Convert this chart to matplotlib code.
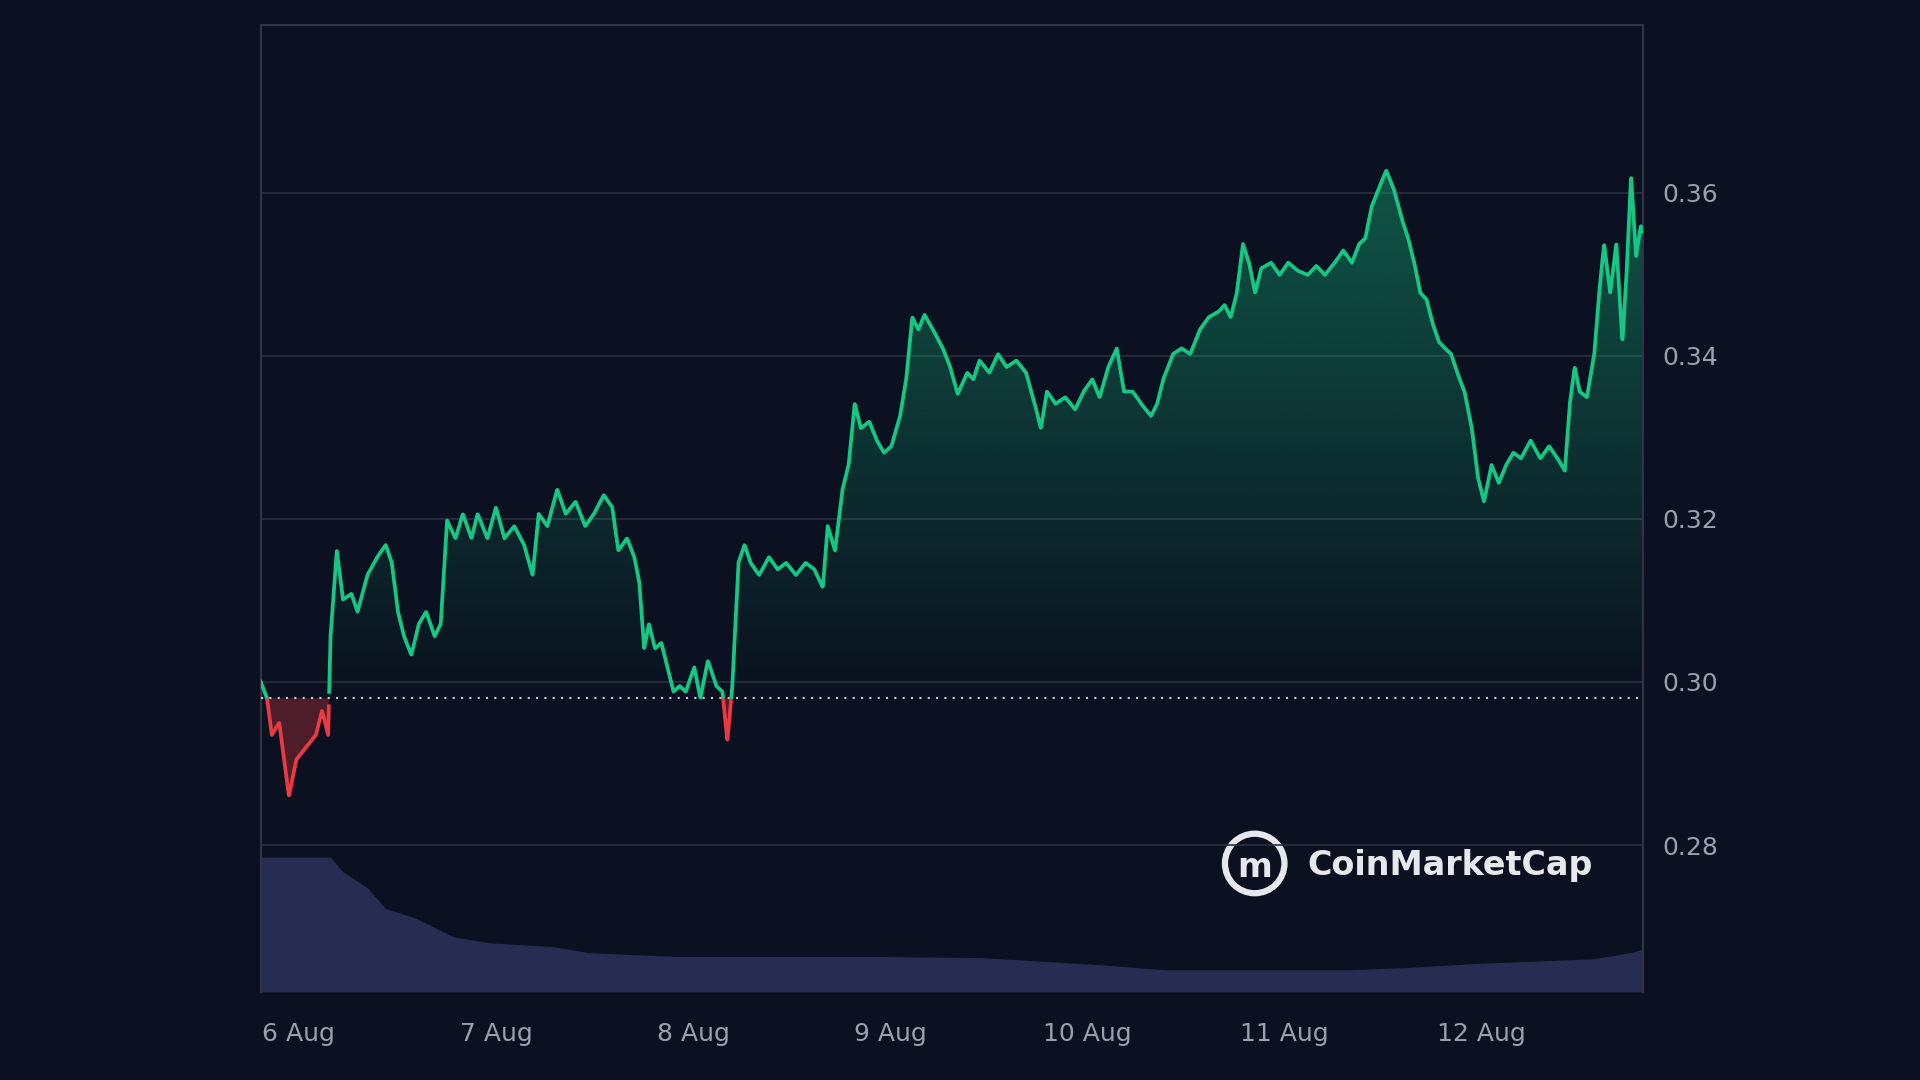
import numpy as np
import matplotlib.pyplot as plt
from matplotlib.patches import Ellipse

# time in days since 6 Aug 00:00, price in USD
days = [-0.193, -0.161, -0.137, -0.099, -0.050, -0.012, 0.037, 0.087, 0.118, 0.149, 0.161, 0.193, 0.224, 0.267,
        0.298, 0.348, 0.398, 0.441, 0.472, 0.503, 0.534, 0.571, 0.609, 0.646, 0.689, 0.720, 0.752, 0.795, 0.832,
        0.876, 0.907, 0.957, 1.000, 1.043, 1.093, 1.143, 1.186, 1.217, 1.261, 1.311, 1.354, 1.404, 1.453, 1.497,
        1.547, 1.590, 1.621, 1.665, 1.702, 1.727, 1.752, 1.776, 1.807, 1.839, 1.870, 1.901, 1.932, 1.963, 2.006,
        2.037, 2.075, 2.118, 2.149, 2.174, 2.199, 2.230, 2.261, 2.292, 2.335, 2.385, 2.429, 2.472, 2.522, 2.571,
        2.615, 2.658, 2.683, 2.720, 2.758, 2.789, 2.820, 2.851, 2.894, 2.932, 2.969, 3.006, 3.050, 3.081, 3.112,
        3.143, 3.174, 3.217, 3.267, 3.304, 3.342, 3.391, 3.422, 3.453, 3.503, 3.547, 3.590, 3.640, 3.689, 3.733,
        3.764, 3.795, 3.839, 3.888, 3.938, 3.981, 4.025, 4.062, 4.106, 4.149, 4.186, 4.230, 4.273, 4.323, 4.354,
        4.385, 4.435, 4.478, 4.522, 4.571, 4.615, 4.665, 4.696, 4.727, 4.758, 4.789, 4.820, 4.851, 4.882, 4.932,
        4.975, 5.019, 5.068, 5.118, 5.161, 5.205, 5.255, 5.298, 5.342, 5.379, 5.410, 5.441, 5.478, 5.516, 5.553,
        5.596, 5.627, 5.658, 5.689, 5.720, 5.752, 5.783, 5.814, 5.845, 5.876, 5.913, 5.950, 5.981, 6.012, 6.050,
        6.087, 6.124, 6.161, 6.199, 6.248, 6.298, 6.342, 6.385, 6.422, 6.447, 6.472, 6.497, 6.534, 6.571, 6.596,
        6.621, 6.652, 6.683, 6.714, 6.733, 6.758, 6.783, 6.807, 6.820]
price = [0.3000, 0.2980, 0.2935, 0.2950, 0.2860, 0.2905, 0.2920, 0.2935, 0.2965, 0.2935, 0.3056, 0.3161, 0.3101,
         0.3108, 0.3086, 0.3131, 0.3153, 0.3168, 0.3146, 0.3086, 0.3056, 0.3033, 0.3071, 0.3086, 0.3056, 0.3071,
         0.3198, 0.3176, 0.3206, 0.3176, 0.3206, 0.3176, 0.3214, 0.3176, 0.3191, 0.3168, 0.3131, 0.3206, 0.3191,
         0.3236, 0.3206, 0.3221, 0.3191, 0.3206, 0.3229, 0.3214, 0.3161, 0.3176, 0.3153, 0.3123, 0.3041, 0.3071,
         0.3041, 0.3048, 0.3018, 0.2988, 0.2995, 0.2988, 0.3018, 0.2980, 0.3026, 0.2995, 0.2988, 0.2928, 0.2995,
         0.3146, 0.3168, 0.3146, 0.3131, 0.3153, 0.3138, 0.3146, 0.3131, 0.3146, 0.3138, 0.3116, 0.3191, 0.3161,
         0.3236, 0.3266, 0.3341, 0.3311, 0.3319, 0.3296, 0.3281, 0.3289, 0.3326, 0.3371, 0.3447, 0.3432, 0.3450,
         0.3432, 0.3409, 0.3386, 0.3353, 0.3379, 0.3371, 0.3394, 0.3379, 0.3402, 0.3386, 0.3394, 0.3379, 0.3341,
         0.3311, 0.3356, 0.3341, 0.3349, 0.3334, 0.3356, 0.3371, 0.3349, 0.3386, 0.3409, 0.3356, 0.3356, 0.3341,
         0.3326, 0.3341, 0.3371, 0.3402, 0.3409, 0.3402, 0.3432, 0.3447, 0.3454, 0.3462, 0.3447, 0.3477, 0.3537,
         0.3514, 0.3477, 0.3507, 0.3514, 0.3499, 0.3514, 0.3504, 0.3499, 0.3510, 0.3499, 0.3514, 0.3529, 0.3514,
         0.3537, 0.3544, 0.3582, 0.3605, 0.3627, 0.3605, 0.3567, 0.3544, 0.3514, 0.3477, 0.3469, 0.3439, 0.3417,
         0.3409, 0.3402, 0.3379, 0.3356, 0.3311, 0.3251, 0.3221, 0.3266, 0.3244, 0.3266, 0.3281, 0.3274, 0.3296,
         0.3274, 0.3289, 0.3274, 0.3259, 0.3341, 0.3386, 0.3356, 0.3349, 0.3402, 0.3477, 0.3537, 0.3477, 0.3537,
         0.3417, 0.3492, 0.3620, 0.3522, 0.3559, 0.3552]

vol_days = [-0.193, 0.161, 0.224, 0.348, 0.441, 0.596, 0.783, 0.969, 1.286, 1.472, 1.907, 2.839, 3.460, 3.770,
            4.081, 4.391, 4.702, 5.323, 5.634, 5.944, 6.255, 6.565, 6.752, 6.820]
volume = [110, 110, 98, 85, 68, 60, 45, 40, 37, 32, 29, 29, 28, 25, 22, 18, 18, 18, 20, 23, 25, 27, 32, 35]

baseline = 0.298
day_labels = ['6 Aug', '7 Aug', '8 Aug', '9 Aug', '10 Aug', '11 Aug', '12 Aug']
y_ticks = [0.28, 0.30, 0.32, 0.34, 0.36]

BG = '#0b1120'
GREEN = '#16c784'
RED = '#ea3943'

x = np.array(days)
y = np.array(price)

fig = plt.figure(figsize=(19.2, 10.8), dpi=100, facecolor=BG)
ax = fig.add_axes([0.1358, 0.0816, 0.7201, 0.8957])
ax.set_facecolor(BG)
xmin, xmax = -0.193, 6.82
ax.set_xlim(xmin, xmax)
ax.set_ylim(0.262, 0.3806)

# volume on its own scale
vax = ax.twinx()
vax.set_ylim(0, 790)
vax.fill_between(vol_days, volume, color='#272d52', lw=0, zorder=1)
vax.axis('off')
ax.set_zorder(vax.get_zorder() + 1)
ax.patch.set_visible(False)
vax.set_facecolor(BG)

for t in y_ticks:
    ax.axhline(t, color='#2a3040', lw=1.2, zorder=1)

# gradient fill above baseline
grad = np.linspace(0.38, 0.0, 256).reshape(-1, 1)
img = np.zeros((256, 1, 4))
img[..., 0] = 0x16 / 255
img[..., 1] = 0xc7 / 255
img[..., 2] = 0x84 / 255
img[..., 3] = grad
im = ax.imshow(img, aspect='auto', extent=[xmin, xmax, baseline, 0.3627], origin='upper', zorder=2)
poly = ax.fill_between(x, np.maximum(y, baseline), baseline, color='none', lw=0)
im.set_clip_path(poly.get_paths()[0], transform=ax.transData)
ax.fill_between(x, y, baseline, where=y < baseline, interpolate=True, color=RED, alpha=0.3, lw=0, zorder=2)

# line split by baseline
xf = np.linspace(xmin, xmax, 4000)
yf = np.interp(xf, x, y)
ax.plot(xf, np.where(yf >= baseline, yf, np.nan), color=GREEN, lw=2.7, zorder=4)
ax.plot(xf, np.where(yf <= baseline, yf, np.nan), color=RED, lw=2.7, zorder=4)
ax.axhline(baseline, color='#c8ccd4', lw=1.5, ls=(0, (1, 3)), zorder=3)

ax.set_yticks(y_ticks)
ax.set_yticklabels([f'{t:.2f}' for t in y_ticks])
ax.yaxis.tick_right()
ax.set_xticks(range(len(day_labels)))
ax.set_xticklabels(day_labels)
ax.tick_params(colors='#9aa0ac', labelsize=18, length=0, pad=14)
ax.tick_params(axis='x', pad=22)
for s in ['left', 'top', 'right']:
    ax.spines[s].set_color('#2f3545')
    ax.spines[s].set_linewidth(1.5)
ax.spines['bottom'].set_visible(False)

# watermark
fig.text(0.681, 0.199, 'CoinMarketCap', color='#e6e8ec', fontsize=24, fontweight='bold',
         ha='left', va='center')
fig.add_artist(Ellipse((0.6535, 0.2005), 0.031, 0.031 * 1920 / 1080, transform=fig.transFigure,
                       fill=False, ec='#e6e8ec', lw=4.5))
fig.text(0.6535, 0.197, 'm', color='#e6e8ec', fontsize=24, fontweight='bold', ha='center', va='center')

fig.savefig('out.png', facecolor=BG)
